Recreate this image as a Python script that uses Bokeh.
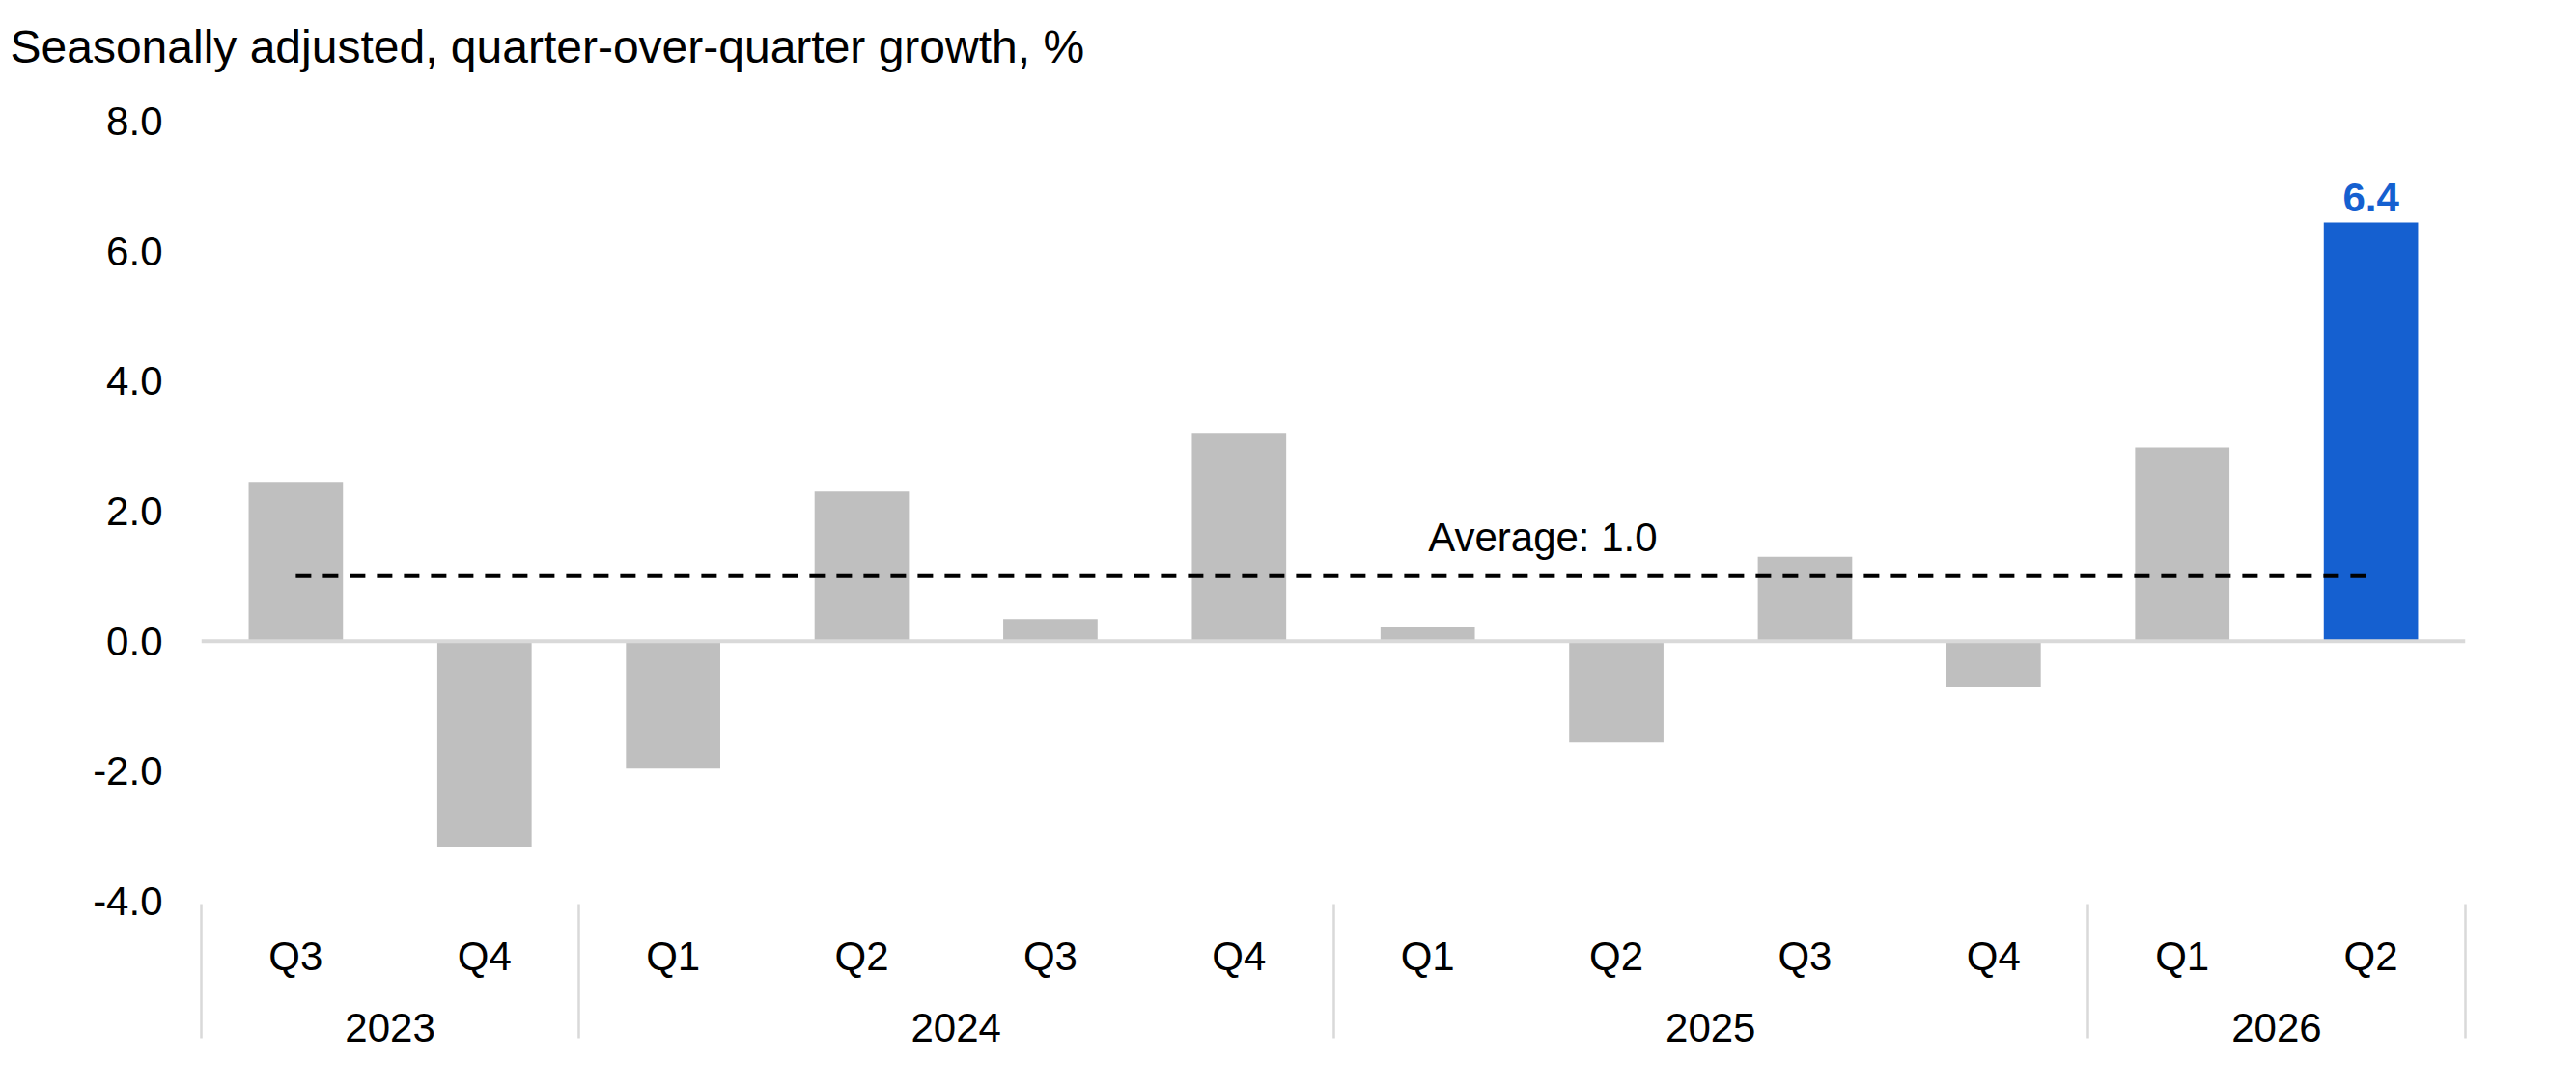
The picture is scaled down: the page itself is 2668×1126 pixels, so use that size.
from bokeh.plotting import figure
from bokeh.layouts import column
from bokeh.models import (ColumnDataSource, FactorRange, Range1d, FixedTicker,
                          PrintfTickFormatter, Span, Label)
from bokeh.core.properties import value
from bokeh.embed import file_html
from bokeh.resources import INLINE

# ---- data ----
years = ["2023", "2023", "2024", "2024", "2024", "2024",
         "2025", "2025", "2025", "2025", "2026", "2026"]
quarters = ["Q3", "Q4", "Q1", "Q2", "Q3", "Q4",
            "Q1", "Q2", "Q3", "Q4", "Q1", "Q2"]
growth = [2.45, -3.16, -1.96, 2.30, 0.34, 3.19,
          0.21, -1.56, 1.30, -0.71, 2.98, 6.44]
y_ticks = [-4, -2, 0, 2, 4, 6, 8]
title_text = "Seasonally adjusted, quarter-over-quarter growth, %"

FONT = "Liberation Sans"
GRAY = "#BFBFBF"
BLUE = "#1560D0"
LIGHT = "#D9D9D9"
W = 2668
TITLE_H = 100
MAIN_H = 1026
LEFT = 208

factors = list(zip(years, quarters))
average = round(sum(growth) / len(growth), 1)
colors = [GRAY] * (len(growth) - 1) + [BLUE]

# ---- title strip ----
t = figure(width=W, height=TITLE_H, output_backend="svg", toolbar_location=None,
           x_range=Range1d(0, 1), y_range=Range1d(0, 1), min_border=0)
t.axis.visible = False
t.grid.visible = False
t.outline_line_color = None
t.title.text = title_text
t.title.text_font = FONT
t.title.text_font_size = "48px"
t.title.text_font_style = "normal"
t.title.text_color = "black"
t.title.align = "left"
t.title.vertical_align = "middle"
t.title.offset = 10 - LEFT
t.title.standoff = 49

# ---- main chart ----
# blank outer slots let the axis draw its group separators at both plot edges
edge_l, edge_r = (" ", " "), ("  ", "  ")
x_range = FactorRange(edge_l, *factors, edge_r, group_padding=0, factor_padding=0,
                      range_padding=-0.999, range_padding_units="absolute")

source = ColumnDataSource(dict(x=factors, top=growth, color=colors))

p = figure(width=W, height=MAIN_H, output_backend="svg", toolbar_location=None,
           x_range=x_range, y_range=Range1d(y_ticks[0], y_ticks[-1]),
           min_border_left=LEFT, min_border_right=115,
           min_border_top=25, min_border_bottom=193)
p.outline_line_color = None
p.grid.visible = False
p.background_fill_color = "white"

# bars
p.vbar(x="x", top="top", width=0.5, source=source,
       fill_color="color", line_color=None)

# zero line
p.add_layout(Span(location=0, dimension="width", line_color=LIGHT, line_width=4))

# average line + label
p.line(x=[factors[0], factors[-1]], y=[average, average], line_color="black",
       line_width=4, line_dash="16 12")
p.add_layout(Label(x=1 + 7.11, y=average + 0.60, text=f"Average: {average:.1f}",
                   text_align="center", text_baseline="middle",
                   text_font=FONT, text_font_size="42px", text_color="black"))

# highlighted value label
last = ColumnDataSource(dict(x=[factors[-1]], y=[growth[-1] + 0.385],
                             t=[f"{growth[-1]:.1f}"]))
p.text(x="x", y="y", text="t", source=last,
       text_align="center", text_baseline="middle",
       text_font=value(FONT), text_font_size=value("42px"),
       text_font_style="bold", text_color=BLUE)

# y axis
ya = p.yaxis[0]
ya.ticker = FixedTicker(ticks=y_ticks)
ya.formatter = PrintfTickFormatter(format="%.1f")
ya.axis_line_color = None
ya.major_tick_line_color = None
ya.minor_tick_line_color = None
ya.major_label_standoff = 34
ya.major_label_text_font = FONT
ya.major_label_text_font_size = "42px"
ya.major_label_text_color = "black"

# x axis
xa = p.xaxis[0]
xa.axis_line_color = None
xa.major_tick_line_color = None
xa.minor_tick_line_color = None
xa.major_tick_in = 0
xa.major_tick_out = 0
xa.major_label_standoff = 33
xa.major_label_text_font = FONT
xa.major_label_text_font_size = "42px"
xa.major_label_text_color = "black"
xa.group_text_font = FONT
xa.group_text_font_size = "42px"
xa.group_text_font_style = "normal"
xa.group_text_color = "black"
xa.separator_line_color = LIGHT
xa.separator_line_width = 2.5

layout = column(t, p, spacing=0)
open("out.html", "w").write(file_html(layout, INLINE))
